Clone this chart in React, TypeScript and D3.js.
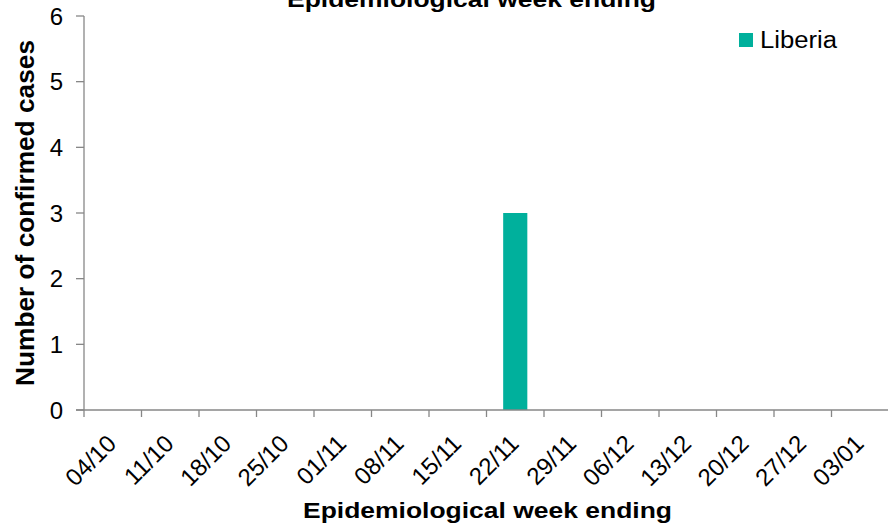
import { useMemo } from "react";
import * as d3 from "d3";

const weeks = [
  "04/10", "11/10", "18/10", "25/10", "01/11", "08/11", "15/11",
  "22/11", "29/11", "06/12", "13/12", "20/12", "27/12", "03/01",
];
const liberia = [0, 0, 0, 0, 0, 0, 0, 3, 0, 0, 0, 0, 0, 0];
const yTicks = [0, 1, 2, 3, 4, 5, 6];
const seriesName = "Liberia";
const xTitle = "Epidemiological week ending";
const yTitle = "Number of confirmed cases";

const WIDTH = 888;
const HEIGHT = 526;
const FONT = "'Liberation Sans', Arial, sans-serif";
const AXIS = "#878787";
const TEAL = "#00B09C";

export default function App() {
  const margin = { top: 16, right: -1, bottom: 116, left: 84 };

  const xScale = useMemo(
    () =>
      d3
        .scaleBand()
        .domain(weeks)
        .range([margin.left, WIDTH - margin.right])
        .padding(0),
    [],
  );
  const yScale = useMemo(
    () =>
      d3
        .scaleLinear()
        .domain([0, 6])
        .range([HEIGHT - margin.bottom, margin.top]),
    [],
  );

  const y0 = yScale(0);
  const barW = xScale.bandwidth() * 0.42;

  return (
    <svg
      width={WIDTH}
      height={HEIGHT}
      viewBox={`0 0 ${WIDTH} ${HEIGHT}`}
      style={{ position: "absolute", left: 0, top: 0, background: "#fff" }}
      fontFamily={FONT}
    >
      {/* title, cut off at the top edge */}
      <text
        x={287}
        y={7}
        fontSize={22}
        fontWeight="bold"
        textLength={369}
        lengthAdjust="spacingAndGlyphs"
      >
        {xTitle}
      </text>

      {/* bars */}
      {liberia.map((v, i) =>
        v > 0 ? (
          <rect
            key={i}
            x={(xScale(weeks[i]) ?? 0) + (xScale.bandwidth() - barW) / 2}
            y={yScale(v)}
            width={barW}
            height={y0 - yScale(v)}
            fill={TEAL}
          />
        ) : null,
      )}

      {/* y axis */}
      <line
        x1={margin.left}
        y1={yScale(6)}
        x2={margin.left}
        y2={y0}
        stroke={AXIS}
        strokeWidth={1.3}
      />
      {yTicks.map((t) => (
        <g key={t}>
          <line
            x1={margin.left - 8}
            x2={margin.left}
            y1={yScale(t)}
            y2={yScale(t)}
            stroke={AXIS}
            strokeWidth={1.3}
          />
          <text
            x={margin.left - 21}
            y={yScale(t)}
            dy="0.36em"
            textAnchor="end"
            fontSize={24}
          >
            {t}
          </text>
        </g>
      ))}

      {/* x axis */}
      <line
        x1={margin.left - 8}
        y1={y0}
        x2={WIDTH}
        y2={y0}
        stroke={AXIS}
        strokeWidth={1.3}
      />
      {weeks.map((w) => (
        <line
          key={w}
          x1={xScale(w) ?? 0}
          x2={xScale(w) ?? 0}
          y1={y0}
          y2={y0 + 7}
          stroke={AXIS}
          strokeWidth={1.3}
        />
      ))}
      {weeks.map((w) => {
        const cx = (xScale(w) ?? 0) + xScale.bandwidth() / 2;
        return (
          <text
            key={w}
            transform={`translate(${cx + 5},${y0 + 35}) rotate(-45)`}
            textAnchor="end"
            fontSize={24}
          >
            {w}
          </text>
        );
      })}

      {/* axis titles */}
      <text
        x={303}
        y={518}
        fontSize={22}
        fontWeight="bold"
        textLength={369}
        lengthAdjust="spacingAndGlyphs"
      >
        {xTitle}
      </text>
      <text
        transform={`translate(34,386) rotate(-90)`}
        fontSize={25}
        fontWeight="bold"
        textLength={346}
        lengthAdjust="spacingAndGlyphs"
      >
        {yTitle}
      </text>

      {/* legend */}
      <rect x={739} y={33} width={14} height={14} fill={TEAL} />
      <text
        x={760}
        y={48}
        fontSize={23}
        textLength={77}
        lengthAdjust="spacingAndGlyphs"
      >
        {seriesName}
      </text>
    </svg>
  );
}
